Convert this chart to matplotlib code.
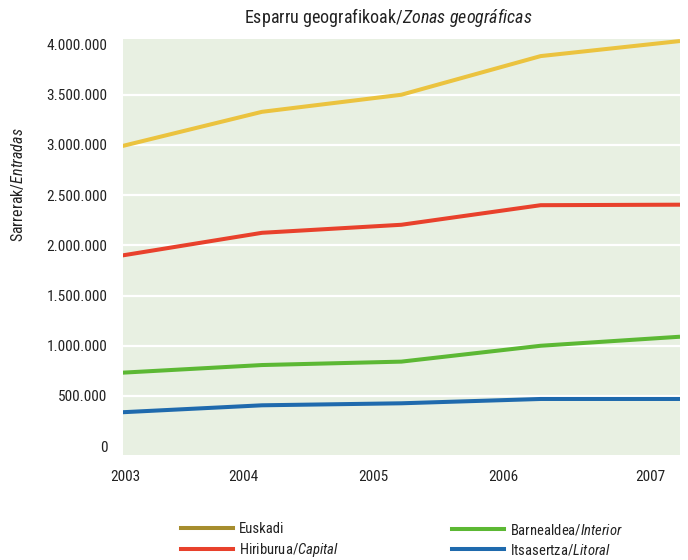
import matplotlib
matplotlib.use('Agg')
import matplotlib.pyplot as plt
from matplotlib.lines import Line2D
from matplotlib.ticker import FuncFormatter

years = ['2003', '2004', '2005', '2006', '2007']
euskadi = [2990000, 3330000, 3500000, 3885000, 4035000]
capital = [1900000, 2125000, 2205000, 2400000, 2405000]
interior = [732000, 808000, 842000, 1000000, 1090000]
litoral = [338000, 407000, 427000, 470000, 470000]

series_labels = ['Euskadi', 'Hiriburua/$\\mathit{Capital}$',
                 'Barnealdea/$\\mathit{Interior}$', 'Itsasertza/$\\mathit{Litoral}$']

# the year labels do not sit under the data points in the original
year_tick_pos = [0.02, 0.866, 1.80, 2.73, 3.785]

FONT = 'Roboto Condensed'
plt.rcParams['font.family'] = [FONT, 'DejaVu Sans']
plt.rcParams['mathtext.fontset'] = 'custom'
plt.rcParams['mathtext.rm'] = FONT
plt.rcParams['mathtext.it'] = FONT + ':italic'

yellow = '#ebc33f'
olive = '#a68d2e'
red = '#e8412c'
green = '#5cb834'
blue = '#1f6aad'
bg = '#e8f0e2'
txt = '#222222'

fig = plt.figure(figsize=(6.88, 5.6), dpi=100)
ax = fig.add_axes([0.1783, 0.1875, 0.8101, 0.743])
ax.set_facecolor(bg)
for s in ax.spines.values():
    s.set_visible(False)

x = list(range(len(years)))
ax.set_xlim(0, len(years) - 1)
ax.set_ylim(-88000, 4056000)

yt = list(range(0, 4000001, 500000))
for v in yt[1:-1]:
    ax.axhline(v, color='white', lw=1.6, zorder=1)

ax.plot(x, litoral, color=blue, lw=2.9, zorder=3, solid_capstyle='butt')
ax.plot(x, interior, color=green, lw=2.9, zorder=3, solid_capstyle='butt')
ax.plot(x, capital, color=red, lw=2.9, zorder=3, solid_capstyle='butt')
ax.plot(x, euskadi, color=yellow, lw=2.9, zorder=3, solid_capstyle='butt')

ax.set_yticks(yt)
ax.yaxis.set_major_formatter(FuncFormatter(lambda v, p: f'{int(v):,}'.replace(',', '.')))
ax.tick_params(axis='y', length=0, pad=11, labelsize=11, labelcolor=txt)

ax.set_xticks(year_tick_pos)
ax.set_xticklabels(years)
ax.tick_params(axis='x', length=0, pad=11, labelsize=11, labelcolor=txt)
ax.set_xticks(year_tick_pos[1:4], minor=True)
ax.tick_params(axis='x', which='minor', direction='in', length=9.5, width=1.2, color='white')

fig.text(0.564, 0.9696, 'Esparru geografikoak/$\\mathit{Zonas\\ geográficas}$',
         ha='center', va='center', fontsize=13, color=txt)
fig.text(0.025, 0.671, 'Sarrerak/$\\mathit{Entradas}$', rotation=90,
         ha='center', va='center', fontsize=11.5, color=txt)

handles = [Line2D([], [], color=c, lw=2.9) for c in (olive, red, green, blue)]
legend_kw = dict(frameon=False, fontsize=10.5, handlelength=3.6, handletextpad=0.38,
                 labelspacing=0.33, borderpad=0, borderaxespad=0, loc='upper left')
for i, xl in ((0, 0.2626), (2, 0.6566)):
    leg = fig.legend(handles[i:i + 2], series_labels[i:i + 2],
                     bbox_to_anchor=(xl, 0.067), **legend_kw)
    for t in leg.get_texts():
        t.set_color(txt)

fig.savefig('out.png', dpi=100)
